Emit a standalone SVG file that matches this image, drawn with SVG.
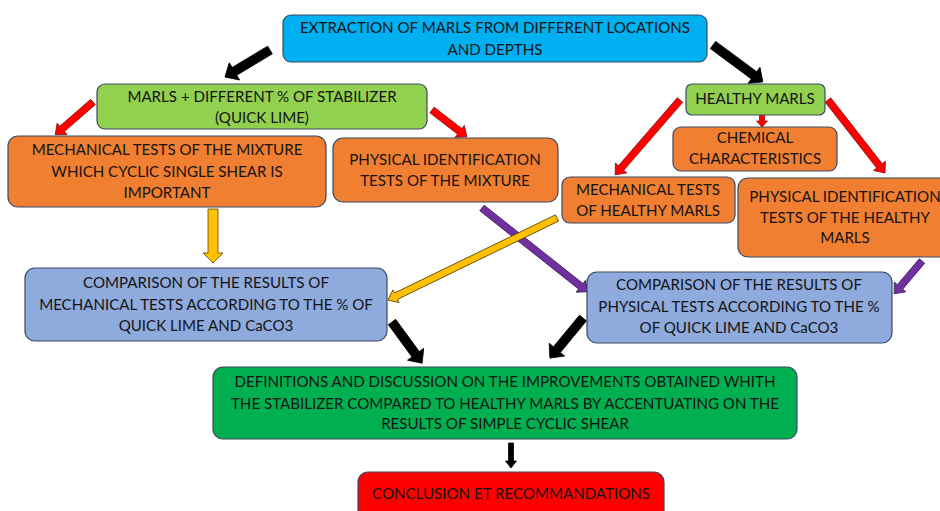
<svg xmlns="http://www.w3.org/2000/svg" width="940" height="511" viewBox="0 0 940 511">
<style>
.box{stroke:#3B4A63;stroke-width:1.2}
.t{font-family:Lato,"Open Sans","Liberation Sans",sans-serif;font-size:15.1px;fill:#141414;text-anchor:middle}
.blue{fill:#00B0F0}.lg{fill:#92D050}.or{fill:#F07F31}.lb{fill:#8FAADC}.dg{fill:#00B050}.rd{fill:#FF0000}
.ak{fill:#000;stroke:#000;stroke-width:0.8}
.ar{fill:#FF0000;stroke:#8B1010;stroke-width:0.8}
.ay{fill:#FFC000;stroke:#5A4500;stroke-width:0.8}
.ap{fill:#7030A0;stroke:#3A1A55;stroke-width:0.8}
</style>
<rect width="940" height="511" fill="#fff"/>
<g id="connectors">
<path class="ak" transform="translate(270,50) rotate(149)" d="M0,-4.5 H41.5 V-10 L52.5,0 L41.5,10 V4.5 H0 Z"/>
<path class="ak" transform="translate(713,45) rotate(36.5)" d="M0,-4.5 H51 V-10 L62,0 L51,10 V4.5 H0 Z"/>
<path class="ar" transform="translate(93,102) rotate(139)" d="M0,-3.5 H41 V-7.5 L50,0 L41,7.5 V3.5 H0 Z"/>
<path class="ar" transform="translate(432,110) rotate(37.6)" d="M0,-3.5 H35 V-7.5 L44,0 L35,7.5 V3.5 H0 Z"/>
<path class="ay" transform="translate(213,209) rotate(90)" d="M0,-5 H44 V-10 L54,0 L44,10 V5 H0 Z"/>
<path class="ar" transform="translate(680,100) rotate(130.9)" d="M0,-3.5 H90 V-7.5 L99,0 L90,7.5 V3.5 H0 Z"/>
<path class="ar" transform="translate(762,114) rotate(90)" d="M0,-2.5 H7 V-5.5 L13,0 L7,5.5 V2.5 H0 Z"/>
<path class="ar" transform="translate(828,100) rotate(52)" d="M0,-3.5 H83.6 V-7.5 L92.6,0 L83.6,7.5 V3.5 H0 Z"/>
<path class="ap" transform="translate(482,208) rotate(38.4)" d="M0,-3.5 H126 V-7.5 L135,0 L126,7.5 V3.5 H0 Z"/>
<path class="ay" transform="translate(557,218) rotate(154.1)" d="M0,-3.5 H179 V-7 L188,0 L179,7 V3.5 H0 Z"/>
<path class="ap" transform="translate(922,261) rotate(130.3)" d="M0,-3.5 H34 V-7.5 L43,0 L34,7.5 V3.5 H0 Z"/>
<path class="ak" transform="translate(392,322) rotate(53.8)" d="M0,-4.5 H40 V-10 L51,0 L40,10 V4.5 H0 Z"/>
<path class="ak" transform="translate(583,318) rotate(129.5)" d="M0,-4.5 H41 V-10 L52,0 L41,10 V4.5 H0 Z"/>
<path class="ak" transform="translate(511,443) rotate(90)" d="M0,-2.5 H18 V-5.5 L25,0 L18,5.5 V2.5 H0 Z"/>
</g>
<g id="extraction">
<rect class="box blue" x="283" y="15" width="424" height="47" rx="8"/>
<text class="t" x="495" y="33">EXTRACTION OF MARLS FROM DIFFERENT LOCATIONS</text>
<text class="t" x="495" y="55">AND DEPTHS</text>
</g>
<g id="marls-stabilizer">
<rect class="box lg" x="97" y="84" width="330" height="45" rx="8"/>
<text class="t" x="262" y="102">MARLS + DIFFERENT % OF STABILIZER</text>
<text class="t" x="262" y="123">(QUICK LIME)</text>
</g>
<g id="mech-mixture">
<rect class="box or" x="8" y="136" width="318" height="71" rx="10"/>
<text class="t" x="167" y="155">MECHANICAL TESTS OF THE MIXTURE</text>
<text class="t" x="167" y="177">WHICH CYCLIC SINGLE SHEAR IS</text>
<text class="t" x="167" y="198">IMPORTANT</text>
</g>
<g id="phys-mixture">
<rect class="box or" x="333" y="138" width="225" height="64" rx="10"/>
<text class="t" x="445" y="165">PHYSICAL IDENTIFICATION</text>
<text class="t" x="445" y="186">TESTS OF THE MIXTURE</text>
</g>
<g id="healthy-marls">
<rect class="box lg" x="686" y="84" width="139" height="31" rx="6"/>
<text class="t" x="755" y="104">HEALTHY MARLS</text>
</g>
<g id="chemical">
<rect class="box or" x="673" y="127" width="164" height="44" rx="8"/>
<text class="t" x="755" y="143">CHEMICAL</text>
<text class="t" x="755" y="164">CHARACTERISTICS</text>
</g>
<g id="mech-healthy">
<rect class="box or" x="562" y="177" width="173" height="46" rx="8"/>
<text class="t" x="648" y="195">MECHANICAL TESTS</text>
<text class="t" x="648" y="216">OF HEALTHY MARLS</text>
</g>
<g id="phys-healthy">
<rect class="box or" x="738" y="178" width="215" height="79" rx="10"/>
<text class="t" x="845" y="202">PHYSICAL IDENTIFICATION</text>
<text class="t" x="845" y="223">TESTS OF THE HEALTHY</text>
<text class="t" x="845" y="243">MARLS</text>
</g>
<g id="compare-mech">
<rect class="box lb" x="25" y="268" width="362" height="73" rx="10"/>
<text class="t" x="206" y="288">COMPARISON OF THE RESULTS OF</text>
<text class="t" x="206" y="310">MECHANICAL TESTS ACCORDING TO THE % OF</text>
<text class="t" x="206" y="331">QUICK LIME AND CaCO3</text>
</g>
<g id="compare-phys">
<rect class="box lb" x="587" y="272" width="305" height="71" rx="10"/>
<text class="t" x="739" y="290">COMPARISON OF THE RESULTS OF</text>
<text class="t" x="739" y="312">PHYSICAL TESTS ACCORDING TO THE %</text>
<text class="t" x="739" y="333">OF QUICK LIME AND CaCO3</text>
</g>
<g id="definitions">
<rect class="box dg" x="213" y="367" width="584" height="72" rx="10"/>
<text class="t" x="505" y="387">DEFINITIONS AND DISCUSSION ON THE IMPROVEMENTS OBTAINED WHITH</text>
<text class="t" x="505" y="409">THE STABILIZER COMPARED TO HEALTHY MARLS BY ACCENTUATING ON THE</text>
<text class="t" x="505" y="429">RESULTS OF SIMPLE CYCLIC SHEAR</text>
</g>
<g id="conclusion">
<rect class="box rd" x="358" y="472" width="306" height="50" rx="10"/>
<text class="t" x="511" y="499">CONCLUSION ET RECOMMANDATIONS</text>
</g>
</svg>
